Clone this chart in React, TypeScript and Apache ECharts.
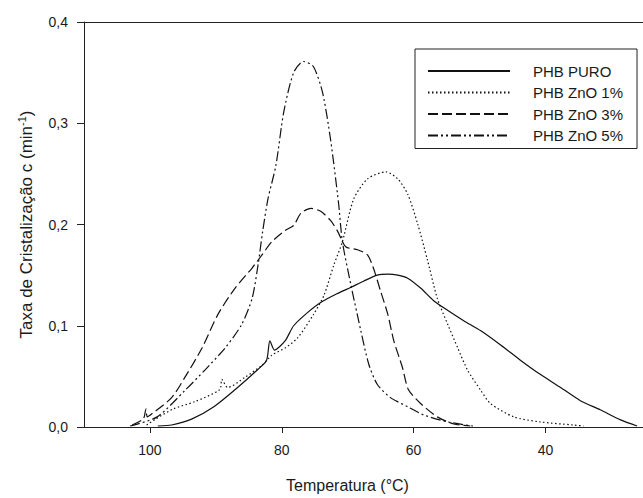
import React, { useEffect, useRef } from "react";
import * as echarts from "echarts";

const tickTemps = [100, 80, 60, 40];

const tempPuro = [98.8, 96.7, 93.6, 90.3, 86.7, 83.6, 82.3, 81.8, 81.1, 79.5, 78.2, 76.1, 74.1, 71.5, 69.5, 67.6, 65.5, 63.9, 62.4, 60.9, 58.9, 57.0, 54.8, 52.4, 49.8, 46.8, 43.8, 40.8, 37.7, 34.7, 31.7, 28.6, 26.1];
const ratePuro = [0.001, 0.002, 0.008, 0.020, 0.039, 0.057, 0.066, 0.085, 0.076, 0.085, 0.100, 0.113, 0.123, 0.132, 0.138, 0.144, 0.150, 0.151, 0.150, 0.147, 0.137, 0.125, 0.115, 0.105, 0.095, 0.081, 0.066, 0.052, 0.039, 0.026, 0.017, 0.007, 0.001];

const tempZnO1 = [100.5, 99.1, 96.4, 93.2, 89.4, 89.1, 88.2, 85.6, 83.0, 81.5, 79.5, 77.6, 75.2, 73.6, 72.1, 70.8, 69.1, 67.0, 64.2, 62.4, 60.9, 59.4, 57.9, 56.4, 54.8, 53.3, 51.8, 49.8, 48.3, 44.8, 40.8, 35.8, 34.2];
const rateZnO1 = [0.002, 0.008, 0.018, 0.025, 0.037, 0.047, 0.039, 0.049, 0.061, 0.071, 0.078, 0.088, 0.111, 0.130, 0.160, 0.183, 0.225, 0.245, 0.252, 0.245, 0.230, 0.201, 0.165, 0.127, 0.101, 0.078, 0.056, 0.036, 0.023, 0.010, 0.005, 0.002, 0.001];

const tempZnO3 = [102.7, 101.0, 100.6, 100.4, 99.7, 96.7, 94.7, 92.1, 89.7, 87.1, 84.5, 83.0, 81.5, 79.5, 78.2, 77.1, 75.6, 74.1, 72.6, 71.5, 70.3, 68.5, 67.0, 66.1, 65.0, 63.9, 63.0, 61.7, 60.8, 58.9, 56.4, 53.9, 51.4];
const rateZnO3 = [0.002, 0.008, 0.018, 0.010, 0.013, 0.029, 0.049, 0.078, 0.111, 0.137, 0.157, 0.170, 0.183, 0.194, 0.199, 0.211, 0.216, 0.213, 0.204, 0.193, 0.178, 0.175, 0.170, 0.157, 0.134, 0.111, 0.085, 0.059, 0.037, 0.023, 0.010, 0.003, 0.001];

const tempZnO5 = [103.0, 98.9, 94.7, 91.7, 88.6, 86.1, 84.5, 83.6, 82.9, 82.1, 80.9, 79.7, 78.2, 76.7, 75.2, 73.8, 72.6, 71.4, 70.8, 69.5, 68.0, 66.8, 65.5, 63.5, 60.9, 58.5, 54.8, 51.0];
const rateZnO5 = [0.001, 0.010, 0.036, 0.056, 0.078, 0.101, 0.127, 0.160, 0.193, 0.225, 0.258, 0.311, 0.350, 0.361, 0.356, 0.330, 0.284, 0.222, 0.183, 0.140, 0.095, 0.062, 0.042, 0.029, 0.020, 0.012, 0.005, 0.001];

const seriesNames = ["PHB PURO", "PHB ZnO 1%", "PHB ZnO 3%", "PHB ZnO 5%"];

const zip = (xs: number[], ys: number[]) => xs.map((x, i) => [x, ys[i]]);

const FONT = "'Liberation Sans', Arial, sans-serif";
const INK = "#1a1a1a";
const CLEAR = "rgba(0,0,0,0)";

export default function App() {
  const ref = useRef<HTMLDivElement>(null);
  useEffect(() => {
    if (!ref.current) return;
    const chart = echarts.init(ref.current, undefined, { renderer: "svg" });
    const lineColor = "#111";
    const mk = (name: string, data: number[][], type: any) => ({
      name,
      type: "line",
      data,
      showSymbol: false,
      symbol: "none",
      smooth: 0.25,
      xAxisIndex: 0,
      lineStyle: { color: lineColor, width: 1.2, type },
      itemStyle: { color: lineColor },
    });
    chart.setOption({
      animation: false,
      backgroundColor: "#fff",
      grid: { left: 84, top: 22, right: 0, bottom: 68 },
      legend: {
        orient: "vertical",
        left: 415,
        top: 49,
        padding: [14, 14, 5, 12],
        itemGap: 5.5,
        itemWidth: 82,
        itemHeight: 16,
        borderColor: "#222",
        borderWidth: 1,
        backgroundColor: "#fff",
        data: seriesNames,
        itemStyle: { color: CLEAR, borderColor: CLEAR, borderWidth: 0, opacity: 0 },
        textStyle: {
          fontFamily: FONT,
          fontSize: 15,
          lineHeight: 16,
          color: INK,
          padding: [0, 0, 0, 18],
        },
      },
      xAxis: [
        {
          type: "value",
          min: 25.2,
          max: 110,
          inverse: true,
          name: "Temperatura (°C)",
          nameLocation: "middle",
          nameGap: 50,
          nameTextStyle: { fontFamily: FONT, fontSize: 16, color: INK, padding: [0, 32, 0, 0] },
          axisLine: { show: true, onZero: false, lineStyle: { color: "#222", width: 1 } },
          axisTick: { show: true, length: 6, customValues: tickTemps, lineStyle: { color: "#222" } },
          axisLabel: { customValues: tickTemps, fontFamily: FONT, fontSize: 14, color: INK, margin: 16 },
          splitLine: { show: false },
        },
        {
          type: "value",
          position: "top",
          min: 25.2,
          max: 110,
          inverse: true,
          axisLine: { show: true, onZero: false, lineStyle: { color: "#222", width: 1 } },
          axisTick: { show: false },
          axisLabel: { show: false },
          splitLine: { show: false },
        },
      ],
      yAxis: {
        type: "value",
        min: 0,
        max: 0.4,
        interval: 0.1,
        name: "Taxa de Cristalização c (min{sup|-1})",
        nameLocation: "middle",
        nameRotate: 90,
        nameGap: 48,
        nameTextStyle: {
          fontFamily: FONT,
          fontSize: 17,
          lineHeight: 20,
          color: INK,
          rich: { sup: { fontFamily: FONT, fontSize: 11, lineHeight: 11, verticalAlign: "top", color: INK } },
        },
        axisLine: { show: true, lineStyle: { color: "#222", width: 1 } },
        axisTick: { show: true, length: 7, inside: false, lineStyle: { color: "#222" } },
        axisLabel: {
          fontFamily: FONT,
          fontSize: 14,
          color: INK,
          margin: 16,
          formatter: (v: number) => v.toFixed(1).replace(".", ","),
        },
        splitLine: { show: false },
      },
      series: [
        mk(seriesNames[0], zip(tempPuro, ratePuro), "solid"),
        mk(seriesNames[1], zip(tempZnO1, rateZnO1), [1.5, 2.5]),
        mk(seriesNames[2], zip(tempZnO3, rateZnO3), [10, 4]),
        mk(seriesNames[3], zip(tempZnO5, rateZnO5), [10, 3, 2, 3, 2, 3]),
      ],
    });
    return () => chart.dispose();
  }, []);
  return <div ref={ref} style={{ width: 643, height: 498, position: "fixed", left: 0, top: 0 }} />;
}
